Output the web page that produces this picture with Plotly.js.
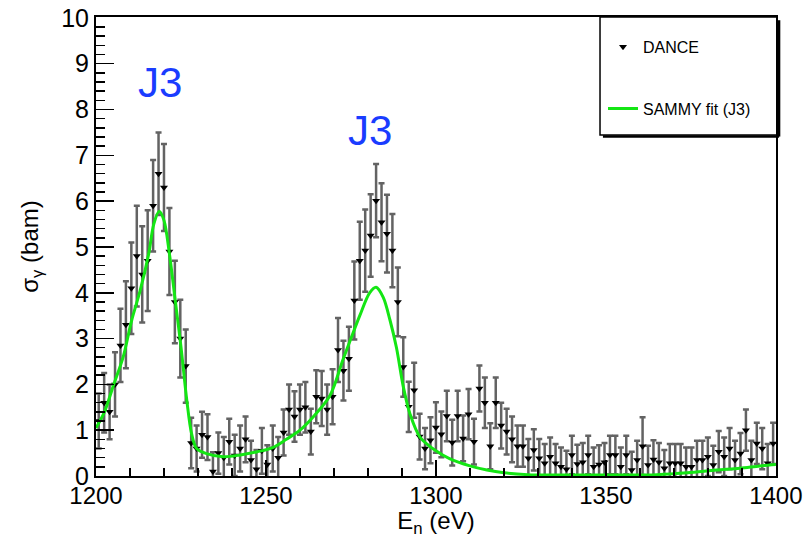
<!DOCTYPE html>
<html>
<head>
<meta charset="utf-8">
<script src="https://cdn.plot.ly/plotly-3.0.1.min.js"></script>
<style>html,body{margin:0;padding:0;background:#fff;}#chart{width:804px;height:538px;}</style>
</head>
<body>
<div id="chart"></div>
<script>
// DANCE data: neutron energy (eV)
const energy = [
1200.8,1202.4,1204.0,1205.6,1207.2,1208.8,1210.4,1212.0,1213.6,1215.2,
1216.8,1218.4,1220.0,1221.6,1223.2,1224.8,1226.4,1228.0,1229.6,1231.2,
1232.8,1234.4,1236.0,1237.6,1239.2,1240.8,1242.4,1244.0,1245.6,1247.2,
1248.8,1250.4,1252.0,1253.6,1255.2,1256.8,1258.4,1260.0,1261.6,1263.2,
1264.8,1266.4,1268.0,1269.6,1271.2,1272.8,1274.4,1276.0,1277.6,1279.2,
1280.8,1282.4,1284.0,1285.6,1287.2,1288.8,1290.4,1292.0,1293.6,1295.2,
1296.8,1298.4,1300.0,1301.6,1303.2,1304.8,1306.4,1308.0,1309.6,1311.2,
1312.8,1314.4,1316.0,1317.6,1319.2,1320.8,1322.4,1324.0,1325.6,1327.2,
1328.8,1330.4,1332.0,1333.6,1335.2,1336.8,1338.4,1340.0,1341.6,1343.2,
1344.8,1346.4,1348.0,1349.6,1351.2,1352.8,1354.4,1356.0,1357.6,1359.2,
1360.8,1362.4,1364.0,1365.6,1367.2,1368.8,1370.4,1372.0,1373.6,1375.2,
1376.8,1378.4,1380.0,1381.6,1383.2,1384.8,1386.4,1388.0,1389.6,1391.2,
1392.8,1394.4,1396.0,1397.6,1399.2];
// capture cross section (barn)
const sigma = [
1.2,1.6,1.4,2.0,2.85,3.3,4.1,4.8,4.4,4.7,
5.9,6.6,6.3,4.9,3.8,3.0,2.4,0.72,0.6,0.9,
0.85,0.1,0.5,0.4,0.75,0.45,0.6,0.8,0.35,0.15,
0.55,0.25,0.6,0.4,0.95,1.45,1.3,1.45,1.5,0.97,
1.73,1.69,1.45,1.73,2.75,2.3,2.56,3.83,4.7,4.92,
5.25,6.01,5.54,5.29,4.92,3.8,2.38,1.51,1.87,0.86,
0.6,0.78,1.06,0.91,1.31,0.73,1.31,0.82,1.35,0.75,
1.91,1.6,0.65,1.6,1.1,0.97,0.8,0.65,0.65,0.39,
0.57,0.39,0.28,0.42,0.28,0.2,0.15,0.46,0.26,0.3,
0.46,0.2,0.25,0.3,0.46,0.46,0.2,0.46,0.13,0.35,
0.65,0.24,0.36,0.3,0.17,0.28,0.28,0.28,0.2,0.2,
0.35,0.35,0.42,0.24,0.53,0.42,0.6,0.35,0.49,1.0,
0.35,0.71,0.6,0.28,0.71];
// uncertainty (barn)
const sigmaErr = [
0.6,0.65,0.6,0.7,0.8,0.95,1.0,1.1,1.05,1.1,
1.0,0.9,0.95,0.95,0.9,0.85,0.8,0.55,0.5,0.5,
0.5,0.42,0.45,0.45,0.5,0.45,0.5,0.5,0.42,0.42,
0.5,0.42,0.5,0.45,0.5,0.55,0.55,0.55,0.55,0.5,
0.58,0.6,0.55,0.6,0.7,0.65,0.7,0.85,0.85,0.9,
0.9,0.8,0.85,0.85,0.8,0.75,0.65,0.55,0.6,0.5,
0.45,0.5,0.55,0.5,0.55,0.5,0.55,0.5,0.55,0.5,
0.5,0.55,0.5,0.55,0.5,0.5,0.5,0.45,0.45,0.42,
0.45,0.42,0.42,0.42,0.42,0.42,0.4,0.42,0.42,0.42,
0.42,0.42,0.42,0.42,0.42,0.42,0.42,0.42,0.4,0.42,
0.63,0.42,0.42,0.42,0.4,0.42,0.42,0.42,0.42,0.42,
0.42,0.42,0.42,0.42,0.45,0.42,0.45,0.42,0.45,0.45,
0.42,0.45,0.45,0.42,0.45];
// SAMMY fit (J3)
const fitEnergy = [1200,1202.5,1205,1208,1210.5,1213,1215.5,1217,1218.6,1220,1221.6,1223.2,1225,1226.7,1228.1,1229.6,1232.5,1237.5,1242.5,1247.5,1252,1256,1260,1264,1268.8,1272.7,1275,1277.6,1280.5,1282.4,1284.5,1286.5,1288.4,1290.4,1292.4,1295.3,1300,1304,1310,1315,1320,1327,1335,1345,1355,1365,1374,1382.5,1389.4,1395.3,1400];
const fitSigma = [1.05,1.4,1.95,2.6,3.4,4.05,4.85,5.5,5.78,5.58,4.85,3.9,2.82,1.66,0.93,0.6,0.49,0.42,0.46,0.53,0.62,0.8,1.0,1.3,1.75,2.55,3.0,3.5,4.0,4.12,3.9,3.4,2.8,1.95,1.35,0.85,0.55,0.38,0.22,0.13,0.07,0.03,0.02,0.02,0.02,0.03,0.07,0.13,0.17,0.22,0.25];
const xTicks = [1200,1250,1300,1350,1400];
const yTicks = [0,1,2,3,4,5,6,7,8,9,10];
const labels = [{x:1218.8, y:8.58, text:'J3'},{x:1280.6, y:7.54, text:'J3'}];

const FONT = 'Liberation Sans, Arial, Helvetica, sans-serif';

const traces = [
  {
    x: energy, y: sigma, type: 'scatter', mode: 'markers', name: 'DANCE',
    legendgroup: 'a',
    marker: {symbol: 'triangle-down', size: 7, color: '#000'},
    error_y: {type: 'data', array: sigmaErr, visible: true, color: '#636363', thickness: 2.5, width: 3}
  },
  {
    x: fitEnergy, y: fitSigma, type: 'scatter', mode: 'lines', name: 'SAMMY fit (J3)',
    legendgroup: 'b',
    line: {color: '#14e614', width: 3, shape: 'spline', smoothing: 0.9}
  }
];

const layout = {
  width: 804, height: 538,
  margin: {l: 96, r: 28, t: 17, b: 62},
  paper_bgcolor: '#fff', plot_bgcolor: '#fff',
  font: {family: FONT, color: '#000'},
  showlegend: true,
  legend: {
    x: 0.7456, y: 0.972, xanchor: 'left', yanchor: 'top',
    bgcolor: 'rgba(0,0,0,0)', borderwidth: 0,
    traceorder: 'grouped',
    font: {family: FONT, size: 16, color: '#000'},
    tracegroupgap: 38
  },
  xaxis: {
    range: [1200, 1400.05], tickvals: xTicks, ticktext: xTicks.map(String),
    ticks: 'inside', ticklen: 16, tickwidth: 1.5, tickcolor: '#000',
    minor: {ticks: 'inside', dtick: 10, ticklen: 8, tickwidth: 1.5, tickcolor: '#000', showgrid: false},
    showline: true, linewidth: 2, linecolor: '#000', mirror: true,
    showgrid: false, zeroline: false,
    ticklabelstandoff: -3,
    tickfont: {family: FONT, size: 24, color: '#000'},
    title: {text: 'E<sub>n</sub> (eV)', font: {family: FONT, size: 24, color: '#000'}, standoff: 9}
  },
  yaxis: {
    range: [0, 10.02], tickvals: yTicks, ticktext: yTicks.map(String),
    ticks: 'inside', ticklen: 18, tickwidth: 1.5, tickcolor: '#000',
    minor: {ticks: 'inside', dtick: 0.2, ticklen: 9, tickwidth: 1.5, tickcolor: '#000', showgrid: false},
    showline: true, linewidth: 2, linecolor: '#000', mirror: true,
    showgrid: false, zeroline: false,
    tickfont: {family: FONT, size: 25, color: '#000'},
    title: {text: 'σ<sub>γ</sub> (bam)', font: {family: FONT, size: 24, color: '#000'}, standoff: 16}
  },
  annotations: labels.map(l => ({
    x: l.x, y: l.y, xref: 'x', yref: 'y', text: l.text, showarrow: false,
    font: {family: FONT, size: 42, color: '#1a3cff'}
  })),
  shapes: [
    {type: 'rect', xref: 'paper', yref: 'paper', x0: 0.7412, x1: 1.0015, y0: 0.7429, y1: 1.0,
     line: {color: '#000', width: 1.5}, fillcolor: 'rgba(0,0,0,0)', layer: 'above'},
    {type: 'line', xref: 'paper', yref: 'paper', x0: 1.0045, x1: 1.0045, y0: 0.7395, y1: 0.993,
     line: {color: '#000', width: 2.5}, layer: 'above'},
    {type: 'line', xref: 'paper', yref: 'paper', x0: 0.7455, x1: 1.0045, y0: 0.7395, y1: 0.7395,
     line: {color: '#000', width: 2.5}, layer: 'above'}
  ]
};

Plotly.newPlot('chart', traces, layout, {displayModeBar: false, staticPlot: true});
</script>
</body>
</html>
